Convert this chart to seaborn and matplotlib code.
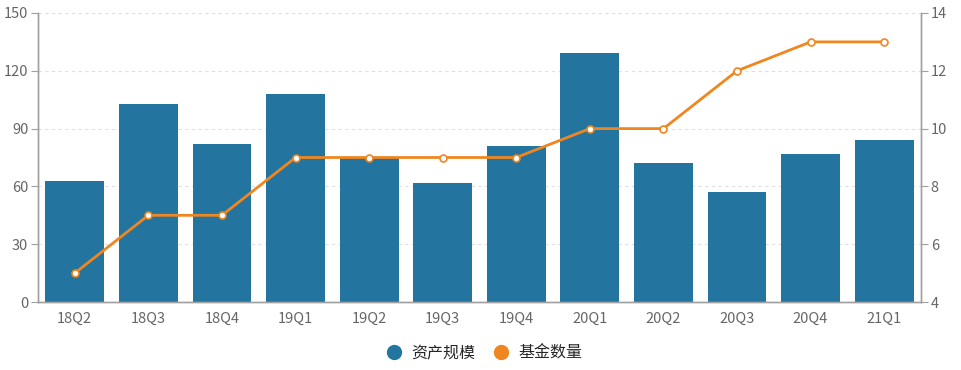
import matplotlib
matplotlib.use("Agg")
import matplotlib.pyplot as plt
import matplotlib.lines as mlines
import numpy as np
import pandas as pd
import seaborn as sns

quarters = ["18Q2", "18Q3", "18Q4", "19Q1", "19Q2", "19Q3",
            "19Q4", "20Q1", "20Q2", "20Q3", "20Q4", "21Q1"]
asset_scale = [63, 103, 82, 108, 75, 62, 81, 129, 72, 57, 77, 84]
fund_count = [5, 7, 7, 9, 9, 9, 9, 10, 10, 12, 13, 13]

bar_color = "#23759f"
line_color = "#f0861f"
axis_color = "#a0a0a0"
text_color = "#666666"

sns.set_style("white")
plt.rcParams['font.family'] = ['Noto Sans CJK SC', 'DejaVu Sans']

df = pd.DataFrame({"quarter": quarters, "asset": asset_scale,
                   "pos": np.arange(len(quarters)), "count": fund_count})

fig = plt.figure(figsize=(9.61, 3.70), dpi=100)
ax = fig.add_axes([38 / 961, 68 / 370, 883 / 961, 289 / 370])

sns.barplot(data=df, x="quarter", y="asset", color=bar_color, saturation=1,
            width=0.8, linewidth=0, ax=ax, zorder=2)
ax.set_xlim(-0.5, len(quarters) - 0.5)
ax.set_ylim(0, 150)
ax.set_yticks(range(0, 151, 30))
ax.grid(axis="y", color="#e0e0e0", linestyle=(0, (3, 3)), linewidth=0.8, zorder=0)
ax.set_axisbelow(True)
ax.set_xlabel("")
ax.set_ylabel("")

ax.set_xticks(np.arange(-0.5, len(quarters), 1), minor=True)
ax.tick_params(axis="x", which="major", length=0, pad=7, colors=text_color, labelsize=10.5)
ax.tick_params(axis="x", which="minor", length=5, color=axis_color, width=1)
ax.tick_params(axis="y", length=5, color=axis_color, colors=text_color, labelsize=10.5, pad=2)

ax2 = ax.twinx()
sns.lineplot(data=df, x="pos", y="count", ax=ax2, color=line_color, linewidth=2,
             marker="o", markersize=5, markerfacecolor="white",
             markeredgecolor=line_color, markeredgewidth=1.2)
ax2.set_ylim(4, 14)
ax2.set_yticks(range(4, 15, 2))
ax2.set_xlabel("")
ax2.set_ylabel("")
ax2.tick_params(axis="y", length=5, color=axis_color, colors=text_color, labelsize=10.5, pad=2)

for a in (ax, ax2):
    a.spines["top"].set_visible(False)
    for s in ("left", "right", "bottom"):
        a.spines[s].set_color(axis_color)
        a.spines[s].set_linewidth(1)
    a.tick_params(axis="y", color=axis_color)

handles = [
    mlines.Line2D([], [], color=bar_color, marker="o", linestyle="None", markersize=10, label="资产规模"),
    mlines.Line2D([], [], color=line_color, marker="o", linestyle="None", markersize=10, label="基金数量"),
]
fig.legend(handles=handles, loc="center", bbox_to_anchor=(0.5, 17 / 370), ncol=2,
           frameon=False, fontsize=11.5, handletextpad=0.1, columnspacing=0.6)

fig.savefig("out.png", dpi=100)
